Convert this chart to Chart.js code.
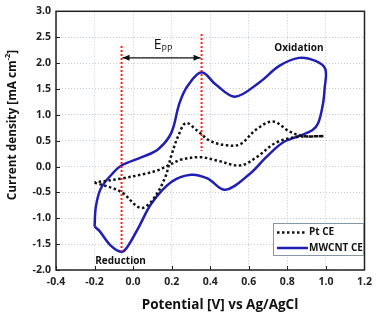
<!DOCTYPE html>
<html>
<head>
<meta charset="utf-8">
<script src="https://cdn.jsdelivr.net/npm/chart.js@4.4.1/dist/chart.umd.min.js"></script>
<style>
  html, body { margin: 0; padding: 0; background: #fff; }
</style>
</head>
<body>
<canvas id="chart-cv" width="378" height="315"></canvas>
<script>
// Pt CE loop (dotted)
const ptX = [-0.2, -0.065, 0.037, 0.096, 0.164, 0.198, 0.235, 0.274, 0.33, 0.402, 0.487, 0.555, 0.64, 0.725, 0.81, 0.878, 0.988,
             0.92, 0.844, 0.74, 0.64, 0.555, 0.436, 0.35, 0.249, 0.198, 0.13, 0.062, -0.057, -0.2];
const ptY = [-0.31, -0.485, -0.8, -0.67, -0.23, 0.21, 0.6, 0.84, 0.7, 0.49, 0.41, 0.43, 0.72, 0.87, 0.68, 0.59, 0.59,
             0.58, 0.57, 0.46, 0.18, 0.02, 0.115, 0.18, 0.134, 0.05, -0.07, -0.14, -0.23, -0.31];

// MWCNT CE loop (solid blue)
const mwX = [-0.2, -0.193, -0.167, -0.108, -0.06, 0.045, 0.13, 0.198, 0.24, 0.283, 0.355, 0.43, 0.529, 0.656, 0.758, 0.86, 0.946, 0.997,
             0.993, 0.985, 0.96, 0.929, 0.86, 0.775, 0.69, 0.606, 0.478, 0.385, 0.30, 0.198, 0.096, 0.028, -0.031, -0.06, -0.116, -0.176, -0.2];
const mwY = [-1.16, -0.77, -0.42, -0.14, 0.02, 0.18, 0.335, 0.65, 1.22, 1.56, 1.82, 1.58, 1.35, 1.63, 1.945, 2.10, 2.04, 1.88,
             1.5, 1.22, 0.84, 0.7, 0.59, 0.46, 0.18, -0.14, -0.45, -0.23, -0.16, -0.3, -0.71, -1.18, -1.56, -1.65, -1.53, -1.24, -1.16];

const seriesNames = ['Pt CE', 'MWCNT CE'];

// peak markers (red dotted) and E_PP arrow
const markerX = [-0.06, 0.355];
const markerTop = [2.33, 2.56];
const markerBottom = [-1.65, 0.30];
const arrowY = 2.1;

const toPoints = (xs, ys) => xs.map((x, i) => ({ x: x, y: ys[i] }));

const FONT = "'Open Sans', sans-serif";
const BLUE = '#1f1fb5';

const notes = {
  id: 'notes',
  afterDatasetsDraw(chart) {
    const { ctx, scales: { x, y } } = chart;
    ctx.save();

    // red dotted peak lines
    ctx.strokeStyle = '#ff1a1a';
    ctx.lineWidth = 2;
    ctx.setLineDash([2, 2]);
    markerX.forEach((mx, i) => {
      ctx.beginPath();
      ctx.moveTo(x.getPixelForValue(mx), y.getPixelForValue(markerTop[i]));
      ctx.lineTo(x.getPixelForValue(mx), y.getPixelForValue(markerBottom[i]));
      ctx.stroke();
    });
    ctx.setLineDash([]);

    // double arrow
    const ax1 = x.getPixelForValue(markerX[0]) + 1;
    const ax2 = x.getPixelForValue(markerX[1]) - 1;
    const ay = y.getPixelForValue(arrowY);
    ctx.strokeStyle = '#111';
    ctx.fillStyle = '#111';
    ctx.lineWidth = 1.2;
    ctx.beginPath();
    ctx.moveTo(ax1, ay);
    ctx.lineTo(ax2, ay);
    ctx.stroke();
    ctx.beginPath();
    ctx.moveTo(ax1, ay); ctx.lineTo(ax1 + 7, ay - 3); ctx.lineTo(ax1 + 7, ay + 3); ctx.closePath();
    ctx.moveTo(ax2, ay); ctx.lineTo(ax2 - 7, ay - 3); ctx.lineTo(ax2 - 7, ay + 3); ctx.closePath();
    ctx.fill();

    // E_PP label
    const ex = (ax1 + ax2) / 2;
    ctx.font = `14px ${FONT}`;
    ctx.textAlign = 'right';
    ctx.textBaseline = 'alphabetic';
    ctx.fillText('E', ex, ay - 9);
    ctx.font = `9px ${FONT}`;
    ctx.textAlign = 'left';
    ctx.fillText('PP', ex, ay - 6);

    // Oxidation / Reduction
    ctx.font = `bold 10px ${FONT}`;
    ctx.textAlign = 'center';
    ctx.textBaseline = 'middle';
    ctx.fillStyle = '#111';
    ctx.fillText('Oxidation', x.getPixelForValue(0.86), y.getPixelForValue(2.29));
    ctx.fillText('Reduction', x.getPixelForValue(-0.065), y.getPixelForValue(-1.83));

    ctx.restore();
  },
  afterDraw(chart) {
    const { ctx, chartArea: { top, bottom, left, right }, scales: { x, y } } = chart;
    ctx.save();

    // inward ticks
    ctx.strokeStyle = '#222';
    ctx.lineWidth = 1;
    x.ticks.forEach(t => {
      const px = Math.round(x.getPixelForValue(t.value)) + 0.5;
      ctx.beginPath(); ctx.moveTo(px, bottom); ctx.lineTo(px, bottom - 4); ctx.stroke();
    });
    y.ticks.forEach(t => {
      const py = Math.round(y.getPixelForValue(t.value)) + 0.5;
      ctx.beginPath(); ctx.moveTo(left, py); ctx.lineTo(left + 4, py); ctx.stroke();
    });

    // frame
    ctx.strokeStyle = '#222';
    ctx.lineWidth = 1.5;
    ctx.strokeRect(left, top, right - left, bottom - top);

    // axis titles
    ctx.fillStyle = '#111';
    ctx.font = `bold 13.5px ${FONT}`;
    ctx.textBaseline = 'middle';
    ctx.textAlign = 'center';
    ctx.fillText('Potential [V] vs Ag/AgCl', 220, 305);

    ctx.translate(13, 125);
    ctx.rotate(-Math.PI / 2);
    const main = 'Current density [mA cm';
    const sup = '-2';
    const end = ']';
    const big = `bold 11.8px ${FONT}`;
    const small = `bold 7.5px ${FONT}`;
    ctx.font = big;
    const w1 = ctx.measureText(main).width;
    const w3 = ctx.measureText(end).width;
    ctx.font = small;
    const w2 = ctx.measureText(sup).width;
    const sx = -(w1 + w2 + w3) / 2;
    ctx.textAlign = 'left';
    ctx.font = big;
    ctx.fillText(main, sx, 0);
    ctx.font = small;
    ctx.fillText(sup, sx + w1, -5);
    ctx.font = big;
    ctx.fillText(end, sx + w1 + w2, 0);
    ctx.setTransform(1, 0, 0, 1, 0, 0);

    // legend box
    const lx = 273, ly = 223, lw = 90, lh = 32;
    ctx.fillStyle = '#fff';
    ctx.fillRect(lx, ly, lw, lh);
    ctx.strokeStyle = '#8796a5';
    ctx.lineWidth = 1;
    ctx.strokeRect(lx + 0.5, ly + 0.5, lw, lh);

    chart.data.datasets.forEach((ds, i) => {
      const ry = ly + 9.5 + i * 15.5;
      ctx.strokeStyle = ds.borderColor;
      ctx.lineWidth = ds.borderWidth;
      ctx.setLineDash(ds.borderDash || []);
      ctx.beginPath();
      ctx.moveTo(lx + 4, ry);
      ctx.lineTo(lx + (i === 0 ? 32 : 35), ry);
      ctx.stroke();
      ctx.setLineDash([]);
      ctx.fillStyle = '#111';
      ctx.font = `bold 10px ${FONT}`;
      ctx.textAlign = 'left';
      ctx.textBaseline = 'middle';
      ctx.fillText(ds.label, lx + 36, ry);
    });

    ctx.restore();
  }
};

new Chart(document.getElementById('chart-cv'), {
  type: 'scatter',
  data: {
    datasets: [{
      label: seriesNames[0],
      data: toPoints(ptX, ptY),
      showLine: true,
      borderColor: '#111',
      borderWidth: 2.5,
      borderDash: [2.5, 2.5],
      pointRadius: 0,
      tension: 0.35,
    }, {
      label: seriesNames[1],
      data: toPoints(mwX, mwY),
      showLine: true,
      borderColor: BLUE,
      borderWidth: 2.5,
      pointRadius: 0,
      tension: 0.35,
    }]
  },
  options: {
    responsive: false,
    animation: false,
    layout: { padding: { top: 6, right: 8, left: 0, bottom: 0 } },
    plugins: {
      legend: { display: false },
      tooltip: { enabled: false }
    },
    scales: {
      x: {
        type: 'linear',
        min: -0.4,
        max: 1.2,
        afterFit: s => { s.height = 45; },
        ticks: {
          stepSize: 0.2,
          padding: 6,
          color: '#222',
          font: { family: FONT, size: 10.5, weight: 'bold' },
          callback: v => v.toFixed(1)
        },
        grid: { color: '#c3ccd5', lineWidth: 1, drawTicks: false },
        border: { display: false, dash: [1, 2] }
      },
      y: {
        min: -2,
        max: 3,
        afterFit: s => { s.width = 56; },
        ticks: {
          stepSize: 0.5,
          padding: 5,
          color: '#222',
          font: { family: FONT, size: 10.5, weight: 'bold' },
          callback: v => v.toFixed(1)
        },
        grid: { color: '#c3ccd5', lineWidth: 1, drawTicks: false },
        border: { display: false, dash: [1, 2] }
      }
    }
  },
  plugins: [notes]
});
</script>
</body>
</html>
